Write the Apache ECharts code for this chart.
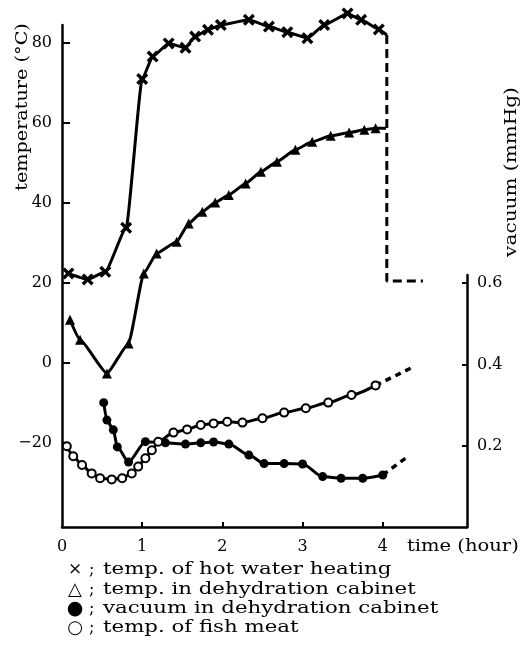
<!DOCTYPE html>
<html>
<head>
<meta charset="utf-8">
<script src="https://cdn.jsdelivr.net/npm/echarts@6/dist/echarts.min.js"></script>
<style>
  html, body { margin: 0; padding: 0; background: #fff; }
  #chart { width: 522px; height: 659px; }
</style>
</head>
<body>
<div id="chart"></div>
<script>
// time in hours
var hotT = [0.08, 0.32, 0.54, 0.8, 1.0, 1.13, 1.33, 1.54, 1.66, 1.82, 1.98, 2.33, 2.58, 2.81, 3.06, 3.27, 3.56, 3.73, 3.95];
var hotV = [22.4, 20.9, 22.8, 33.8, 71.0, 76.6, 79.9, 78.8, 81.6, 83.3, 84.5, 85.8, 84.1, 82.7, 81.2, 84.5, 87.4, 85.8, 83.4];
var hotEnd = [4.05, 82.0];
var hotDashT = [4.05, 4.05, 4.5];
var hotDashV = [82.0, 20.5, 20.5];

var cabT = [0.1, 0.225, 0.56, 0.83, 1.02, 1.18, 1.43, 1.58, 1.75, 1.91, 2.08, 2.29, 2.48, 2.68, 2.91, 3.12, 3.35, 3.58, 3.77, 3.91];
var cabV = [10.8, 5.8, -2.6, 4.9, 22.4, 27.4, 30.3, 34.9, 37.8, 40.1, 42.0, 44.9, 47.8, 50.3, 53.3, 55.3, 56.8, 57.6, 58.3, 58.7];
var cabEnd = [4.04, 58.7];

var vacT = [0.52, 0.56, 0.64, 0.69, 0.83, 1.04, 1.29, 1.54, 1.73, 1.89, 2.08, 2.33, 2.52, 2.77, 3.0, 3.25, 3.48, 3.75, 4.0];
var vacV = [0.306, 0.263, 0.239, 0.197, 0.160, 0.210, 0.207, 0.204, 0.207, 0.209, 0.204, 0.177, 0.156, 0.156, 0.155, 0.124, 0.120, 0.120, 0.128];
var vacDashT = [4.0, 4.31];
var vacDashV = [0.128, 0.173];

var fishT = [0.06, 0.14, 0.25, 0.37, 0.475, 0.62, 0.75, 0.87, 0.95, 1.04, 1.12, 1.2, 1.39, 1.56, 1.73, 1.89, 2.06, 2.25, 2.5, 2.77, 3.04, 3.32, 3.61, 3.91];
var fishV = [-20.8, -23.3, -25.5, -27.6, -28.8, -29.1, -28.8, -27.6, -25.9, -23.8, -21.8, -19.7, -17.4, -16.6, -15.5, -15.1, -14.7, -14.9, -13.8, -12.4, -11.3, -9.9, -8.0, -5.6];
var fishDashT = [3.91, 4.38];
var fishDashV = [-5.6, -1.0];

var xTicks = [0, 1, 2, 3, 4];
var tempTicks = [-20, 0, 20, 40, 60, 80];
var vacTicks = [0.2, 0.4, 0.6];

var legendSyms = ['×', '△', '●', '○'];
var legendTexts = ['temp. of hot water heating', 'temp. in dehydration cabinet', 'vacuum in dehydration cabinet', 'temp. of fish meat'];

function zip(a, b) {
  return a.map(function (t, i) { return [t, b[i]]; });
}

var FONT = '"DejaVu Serif", "Liberation Serif", serif';
var crossPath = 'path://M0,2L2,0L5,3L8,0L10,2L7,5L10,8L8,10L5,7L2,10L0,8L3,5Z';

var hotData = zip(hotT, hotV);
hotData.push({value: hotEnd, symbol: 'none'});
var cabData = zip(cabT, cabV);
cabData.push({value: cabEnd, symbol: 'none'});

var chart = echarts.init(document.getElementById('chart'));

var axisTextStyle = {color: '#000', fontFamily: FONT, fontSize: 16};

var option = {
  backgroundColor: '#fff',
  animation: false,
  grid: [
    {left: 62, right: 55, top: 25, bottom: 132},
    {left: 62, right: 55, top: 275, bottom: 132}
  ],
  xAxis: [
    {
      gridIndex: 0, type: 'value', min: 0, max: 5.05,
      axisLine: {onZero: false, lineStyle: {color: '#000', width: 2.5}},
      axisTick: {inside: true, length: 5, lineStyle: {color: '#000', width: 2}, customValues: [1, 2, 3, 4]},
      axisLabel: Object.assign({margin: 12, customValues: xTicks}, axisTextStyle),
      splitLine: {show: false}
    },
    {
      gridIndex: 1, type: 'value', min: 0, max: 5.05, show: false
    }
  ],
  yAxis: [
    {
      gridIndex: 0, type: 'value', min: -41, max: 84.5,
      axisLine: {show: true, onZero: false, lineStyle: {color: '#000', width: 2.5}},
      axisTick: {show: true, inside: true, length: 8, lineStyle: {color: '#000', width: 2}, customValues: tempTicks},
      axisLabel: Object.assign({margin: 10, customValues: tempTicks, formatter: function (v) {
        return v < 0 ? '\u2212' + Math.abs(v) : String(v);
      }}, axisTextStyle),
      splitLine: {show: false}
    },
    {
      gridIndex: 1, type: 'value', position: 'right', min: 0, max: 0.62,
      axisLine: {show: true, onZero: false, lineStyle: {color: '#000', width: 2.5}},
      axisTick: {show: true, inside: true, length: 5, lineStyle: {color: '#000', width: 2}, customValues: vacTicks},
      axisLabel: Object.assign({margin: 10, customValues: vacTicks, formatter: function (v) {
        return v.toFixed(1);
      }}, axisTextStyle),
      splitLine: {show: false}
    }
  ],
  series: [
    {
      name: 'temp. of hot water heating', type: 'line', xAxisIndex: 0, yAxisIndex: 0,
      data: hotData, smooth: 0.15, smoothMonotone: 'x', clip: false,
      symbol: crossPath, symbolSize: 12,
      itemStyle: {color: '#000'},
      lineStyle: {color: '#000', width: 3}
    },
    {
      type: 'line', xAxisIndex: 0, yAxisIndex: 0, clip: false,
      data: zip(hotDashT, hotDashV), symbol: 'none',
      lineStyle: {color: '#000', width: 3, type: [9, 5]}
    },
    {
      name: 'temp. in dehydration cabinet', type: 'line', xAxisIndex: 0, yAxisIndex: 0,
      data: cabData, smooth: 0.15, smoothMonotone: 'x', clip: false,
      symbol: 'triangle', symbolSize: 10,
      itemStyle: {color: '#000'},
      lineStyle: {color: '#000', width: 3}
    },
    {
      name: 'vacuum in dehydration cabinet', type: 'line', xAxisIndex: 1, yAxisIndex: 1,
      data: zip(vacT, vacV), smooth: 0.25, smoothMonotone: 'x',
      symbol: 'circle', symbolSize: 9,
      itemStyle: {color: '#000'},
      lineStyle: {color: '#000', width: 3}
    },
    {
      type: 'line', xAxisIndex: 1, yAxisIndex: 1,
      data: zip(vacDashT, vacDashV), symbol: 'none',
      lineStyle: {color: '#000', width: 3.5, type: [6, 5]}
    },
    {
      name: 'temp. of fish meat', type: 'line', xAxisIndex: 0, yAxisIndex: 0,
      data: zip(fishT, fishV), smooth: 0.25, smoothMonotone: 'x',
      symbol: 'emptyCircle', symbolSize: 8,
      itemStyle: {color: '#000', borderWidth: 2},
      lineStyle: {color: '#000', width: 3}
    },
    {
      type: 'line', xAxisIndex: 0, yAxisIndex: 0,
      data: zip(fishDashT, fishDashV), symbol: 'none',
      lineStyle: {color: '#000', width: 3.5, type: [6, 5]}
    }
  ],
  graphic: []
};

var g = option.graphic;
g.push({type: 'text', x: 407, y: 547, scaleX: 1.22, style: {text: 'time (hour)', font: '16px ' + FONT, fill: '#000', verticalAlign: 'middle'}});
g.push({type: 'text', x: 23, y: 107, rotation: Math.PI / 2, scaleX: 1.13, style: {text: 'temperature (°C)', font: '17px ' + FONT, fill: '#000', align: 'center', verticalAlign: 'middle'}});
g.push({type: 'text', x: 512, y: 172, rotation: Math.PI / 2, scaleX: 1.18, style: {text: 'vacuum (mmHg)', font: '17px ' + FONT, fill: '#000', align: 'center', verticalAlign: 'middle'}});
var rowY = [570, 590, 609, 628];
var symFont = ['17px ', '18px ', '19px ', '18px '];
legendSyms.forEach(function (s, i) {
  g.push({type: 'text', x: 75, y: rowY[i], style: {text: s, font: symFont[i] + FONT, fill: '#000', align: 'center', verticalAlign: 'middle'}});
  g.push({type: 'text', x: 89, y: rowY[i], style: {text: ';', font: '16px ' + FONT, fill: '#000', verticalAlign: 'middle'}});
  g.push({type: 'text', x: 103, y: rowY[i], scaleX: 1.33, style: {text: legendTexts[i], font: '16px ' + FONT, fill: '#000', verticalAlign: 'middle'}});
});

chart.setOption(option);
</script>
</body>
</html>
